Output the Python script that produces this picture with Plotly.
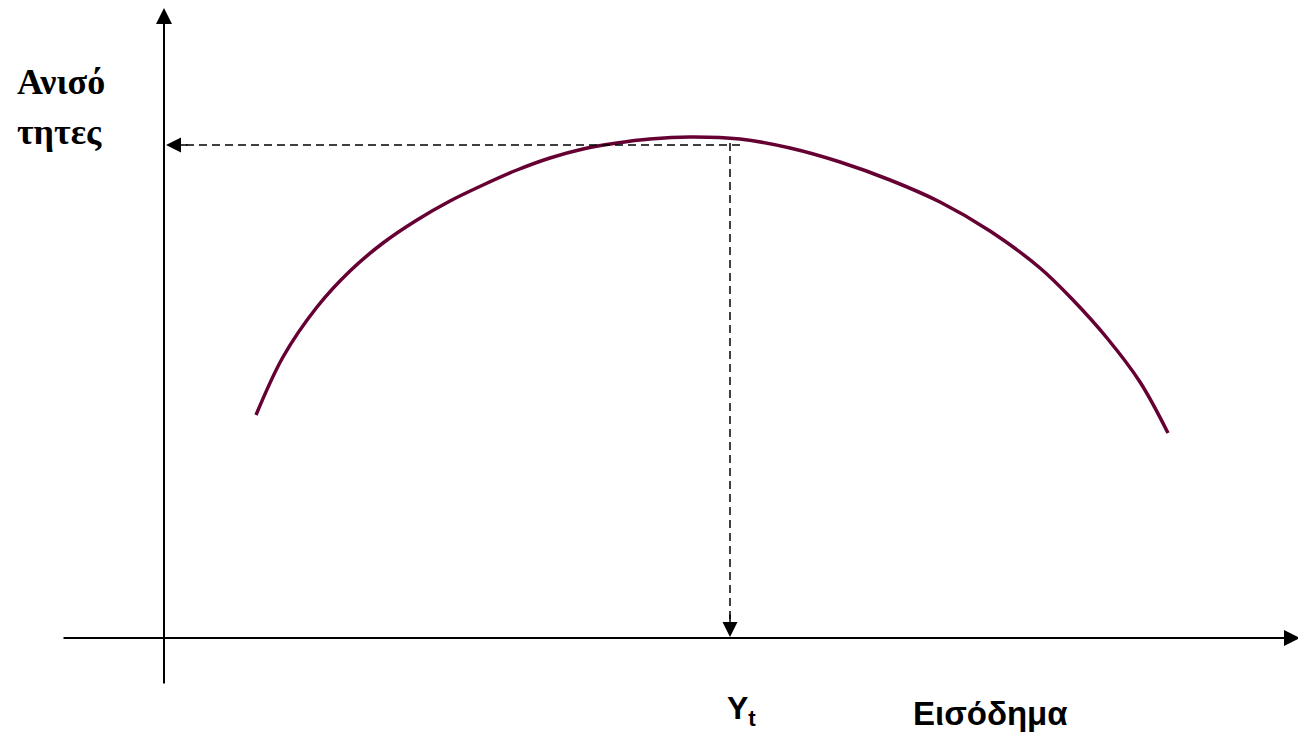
import plotly.graph_objects as go

# Καμπύλη Kuznets: εισόδημα (x) και ανισότητες (y), αυθαίρετες μονάδες
income = [9.2, 11.9, 15.3, 18.6, 21.9, 25.3, 28.6, 31.9, 35.3, 38.6, 41.9, 45.3,
          48.6, 52.6, 57.6, 62.6, 67.6, 72.6, 77.6, 82.6, 87.6, 90.9, 94.3, 97.6,
          100.4]
inequality = [22.3, 28.1, 33.1, 36.7, 39.5, 41.8, 43.7, 45.3, 46.8, 48.0, 48.9, 49.5,
              49.9, 50.1, 49.9, 49.0, 47.6, 45.8, 43.6, 40.7, 37.0, 33.8, 30.0, 25.6,
              20.5]

# Σημείο καμπής
y_turn = 56.6
ineq_turn = 49.3

# Κείμενα
y_label = ["Ανισό", "τητες"]
x_label = "Εισόδημα"
turn_label = "Y<sub>t</sub>"

x_range = [-16.4, 113.4]
y_range = [-9.4, 63.8]

fig = go.Figure()

fig.add_trace(go.Scatter(
    x=income, y=inequality,
    mode="lines",
    line=dict(color="#660033", width=3.5, shape="spline", smoothing=1.0),
    hoverinfo="skip",
    showlegend=False,
))

# Διακεκομμένες γραμμές
fig.add_shape(type="line", x0=y_turn + 1.0, y0=ineq_turn, x1=0.9, y1=ineq_turn,
              line=dict(color="black", width=1.5, dash="8px,5px"))
fig.add_shape(type="line", x0=y_turn, y0=ineq_turn + 0.2, x1=y_turn, y1=0.9,
              line=dict(color="black", width=1.5, dash="8px,5px"))

arrows = [
    # άξονας y
    dict(x=0, y=63.0, ax=0, ay=-4.7, width=2, size=1.6),
    # άξονας x
    dict(x=113.6, y=0, ax=-10.2, ay=0, width=2, size=1.6),
    # αιχμές διακεκομμένων
    dict(x=0.2, y=ineq_turn, ax=2.5, ay=ineq_turn, width=1.5, size=2.0),
    dict(x=y_turn, y=0.1, ax=y_turn, ay=2.5, width=1.5, size=2.0),
]
for a in arrows:
    fig.add_annotation(
        x=a["x"], y=a["y"], ax=a["ax"], ay=a["ay"],
        xref="x", yref="y", axref="x", ayref="y",
        text="", showarrow=True, arrowhead=2,
        arrowwidth=a["width"], arrowsize=a["size"], arrowcolor="black",
    )

serif = "Liberation Serif"
sans = "Liberation Sans"

fig.add_annotation(x=-14.9, y=55.6, text="<b>" + y_label[0] + "</b>", showarrow=False,
                   xanchor="left", yanchor="middle",
                   font=dict(family=serif, size=36, color="black"))
fig.add_annotation(x=-14.9, y=50.6, text="<b>" + y_label[1] + "</b>", showarrow=False,
                   xanchor="left", yanchor="middle",
                   font=dict(family=serif, size=36, color="black"))
fig.add_annotation(x=57.7, y=-7.2, text="<b>" + turn_label + "</b>", showarrow=False,
                   xanchor="center", yanchor="middle",
                   font=dict(family=sans, size=32, color="black"))
fig.add_annotation(x=82.6, y=-7.5, text="<b>" + x_label + "</b>", showarrow=False,
                   xanchor="center", yanchor="middle",
                   font=dict(family=sans, size=33, color="black"))

fig.update_layout(
    width=1298, height=732,
    margin=dict(l=0, r=0, t=0, b=0),
    paper_bgcolor="white", plot_bgcolor="white",
    xaxis=dict(range=x_range, visible=False, fixedrange=True),
    yaxis=dict(range=y_range, visible=False, fixedrange=True),
)

fig.write_html("out.html", config={"displayModeBar": False},
               post_script="document.body.style.margin='0px';"
                           "document.body.style.overflow='hidden';")
